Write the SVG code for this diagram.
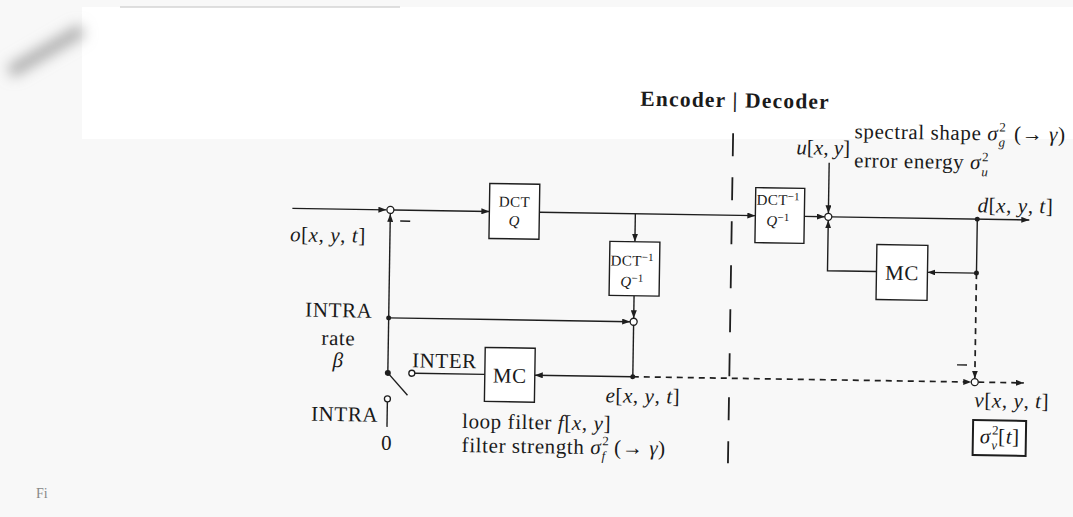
<svg xmlns="http://www.w3.org/2000/svg" width="1073" height="517" viewBox="0 0 1073 517">
<style>
.ln{stroke:#1e1e1e;stroke-width:1.4;fill:none}
.dsh{stroke-dasharray:6 5;stroke-width:1.7}
.box{fill:#fff;stroke:#1e1e1e;stroke-width:1.4}
.nd{fill:#fff;stroke:#1e1e1e;stroke-width:1.3}
.dot{fill:#1e1e1e}
.t{font-family:"Liberation Serif","DejaVu Serif",serif;font-size:21px;fill:#1a1a1a;letter-spacing:0.6px}
.s{font-size:15px;letter-spacing:0.4px}
.i{font-style:italic}
.b{font-weight:bold;font-size:21.5px;letter-spacing:1.2px}
.sp{font-size:13px;letter-spacing:0}
.ss{font-size:11px;letter-spacing:0}
</style>
<defs>
<marker id="ar" markerWidth="9" markerHeight="6" refX="8" refY="3" orient="auto" markerUnits="userSpaceOnUse">
<path d="M0,0 L8,3 L0,6 z" fill="#1e1e1e"/>
</marker>
<filter id="bl" x="-50%" y="-50%" width="200%" height="200%"><feGaussianBlur stdDeviation="7"/></filter>
</defs>
<rect width="1073" height="517" fill="#f8f8f8"/>
<rect x="82" y="7" width="991" height="132" fill="#ffffff"/>
<line x1="120" y1="7" x2="400" y2="7" stroke="#d5d5d5" stroke-width="1.5"/>
<path d="M10,72 L82,30" stroke="#a8a8a8" stroke-width="12" filter="url(#bl)"/>
<text x="36" y="498" style="font-family:'Liberation Serif',serif;font-size:14px;fill:#888">Fi</text>
<g transform="rotate(0.9 650 300)">
<g id="connectors">
<path class="ln" d="M291,214 L385,214" marker-end="url(#ar)"/>
<path class="ln" d="M389,377 L389,218" marker-end="url(#ar)"/>
<path class="ln" d="M392.5,214 L488,214" marker-end="url(#ar)"/>
<path class="ln" d="M538,214 L754,214" marker-end="url(#ar)"/>
<path class="ln" d="M634,214 L634,242" marker-end="url(#ar)"/>
<path class="ln" d="M634,296 L634,318.5" marker-end="url(#ar)"/>
<path class="ln" d="M389,322 L630.5,322" marker-end="url(#ar)"/>
<path class="ln" d="M634,325.5 L634,377"/>
<path class="ln" d="M634,377 L536,377" marker-end="url(#ar)"/>
<path class="ln" d="M416,377 L486,377"/>
<path class="ln" d="M389,377 L409,399"/>
<path class="ln" d="M389,406 L389,431"/>
<path class="ln dsh" d="M634,377 L972.5,377" marker-end="url(#ar)"/>
<path class="ln dsh" d="M979.5,377 L1025,377" marker-end="url(#ar)"/>
<path class="ln" d="M803,214 L823.5,214" marker-end="url(#ar)"/>
<path class="ln" d="M827,160 L827,210.5" marker-end="url(#ar)"/>
<path class="ln" d="M830.5,214 L1028,214" marker-end="url(#ar)"/>
<path class="ln" d="M976,214 L976,268 L927,268" marker-end="url(#ar)"/>
<path class="ln" d="M876,268 L827,268 L827,217.5" marker-end="url(#ar)"/>
<path class="ln dsh" d="M976,268 L976,373.5" marker-end="url(#ar)"/>
<line x1="730.5" y1="132" x2="730.5" y2="462" stroke="#1e1e1e" stroke-width="1.8" stroke-dasharray="23 21"/>
<line x1="399" y1="225" x2="409" y2="225" stroke="#1e1e1e" stroke-width="1.4"/>
<line x1="958" y1="360" x2="968" y2="360" stroke="#1e1e1e" stroke-width="1.4"/>
<circle class="dot" cx="389" cy="322" r="2.5"/>
<circle class="dot" cx="389" cy="377" r="3"/>
<circle class="dot" cx="634" cy="377" r="2.5"/>
<circle class="dot" cx="976" cy="214" r="2.5"/>
<circle class="dot" cx="976" cy="268" r="2.5"/>
<circle class="nd" cx="413" cy="377" r="3"/>
<circle class="nd" cx="389" cy="403" r="3"/>
</g>
<g id="sum1"><circle class="nd" cx="389" cy="214" r="3.5"/></g>
<g id="sum2"><circle class="nd" cx="634" cy="322" r="3.5"/></g>
<g id="sum3"><circle class="nd" cx="827" cy="214" r="3.5"/></g>
<g id="sumv"><circle class="nd" cx="976" cy="377" r="3.5"/></g>
<g id="dctq">
<rect class="box" x="488" y="186" width="50" height="55"/>
<text class="t s" x="513" y="209" text-anchor="middle">DCT</text>
<text class="t s i" x="513" y="228" text-anchor="middle">Q</text>
</g>
<g id="idct-enc">
<rect class="box" x="609" y="242" width="50" height="54"/>
<text class="t s" x="610" y="266">DCT<tspan class="ss" dy="-5">−1</tspan></text>
<text class="t s" x="620" y="287"><tspan class="i">Q</tspan><tspan class="ss" dy="-5">−1</tspan></text>
</g>
<g id="mc-enc">
<rect class="box" x="486" y="350" width="50" height="54"/>
<text class="t" x="511" y="385" text-anchor="middle">MC</text>
</g>
<g id="idct-dec">
<rect class="box" x="754" y="186" width="49" height="55"/>
<text class="t s" x="755" y="203">DCT<tspan class="ss" dy="-5">−1</tspan></text>
<text class="t s" x="765" y="224"><tspan class="i">Q</tspan><tspan class="ss" dy="-5">−1</tspan></text>
</g>
<g id="mc-dec">
<rect class="box" x="876" y="241" width="51" height="55"/>
<text class="t" x="901.5" y="276" text-anchor="middle">MC</text>
</g>
<g id="var-box">
<rect x="975" y="415" width="53" height="35" fill="#fff" stroke="#1e1e1e" stroke-width="2"/>
<text class="t" x="982" y="438"><tspan class="i">σ</tspan><tspan class="sp" dx="1" dy="-9">2</tspan><tspan class="i sp" dx="-7" dy="15">v</tspan><tspan dx="1" dy="-6">[</tspan><tspan class="i">t</tspan>]</text>
</g>
<g id="labels">
<text class="t b" x="732" y="106" text-anchor="middle">Encoder | Decoder</text>
<text class="t" x="289" y="247"><tspan class="i">o</tspan>[<tspan class="i">x</tspan>, <tspan class="i">y</tspan>, <tspan class="i">t</tspan>]</text>
<text class="t" x="339" y="322" text-anchor="middle">INTRA</text>
<text class="t" x="339" y="350" text-anchor="middle">rate</text>
<text class="t i" x="339" y="372" text-anchor="middle">β</text>
<text class="t" x="380" y="426" text-anchor="end">INTRA</text>
<text class="t" x="389" y="454" text-anchor="middle">0</text>
<text class="t" x="413" y="371">INTER</text>
<text class="t" x="607" y="403"><tspan class="i">e</tspan>[<tspan class="i">x</tspan>, <tspan class="i">y</tspan>, <tspan class="i">t</tspan>]</text>
<text class="t" x="464" y="431">loop filter <tspan class="i">f</tspan>[<tspan class="i">x</tspan>, <tspan class="i">y</tspan>]</text>
<text class="t" x="464" y="455">filter strength <tspan class="i">σ</tspan><tspan class="sp" dx="1" dy="-9">2</tspan><tspan class="i sp" dx="-7" dy="15">f</tspan><tspan dx="3" dy="-6"> (→ </tspan><tspan class="i">γ</tspan>)</text>
<text class="t" x="794" y="152" style="letter-spacing:0"><tspan class="i">u</tspan>[<tspan class="i">x</tspan>, <tspan class="i">y</tspan>]</text>
<text class="t" x="852" y="135">spectral shape <tspan class="i">σ</tspan><tspan class="sp" dx="1" dy="-9">2</tspan><tspan class="i sp" dx="-7" dy="15">g</tspan><tspan dx="3" dy="-6"> (→ </tspan><tspan class="i">γ</tspan>)</text>
<text class="t" x="852" y="164">error energy <tspan class="i">σ</tspan><tspan class="sp" dx="1" dy="-8">2</tspan><tspan class="i sp" dx="-7" dy="15">u</tspan></text>
<text class="t" x="976" y="207"><tspan class="i">d</tspan>[<tspan class="i">x</tspan>, <tspan class="i">y</tspan>, <tspan class="i">t</tspan>]</text>
<text class="t" x="976" y="402"><tspan class="i">v</tspan>[<tspan class="i">x</tspan>, <tspan class="i">y</tspan>, <tspan class="i">t</tspan>]</text>
</g>
</g>
</svg>
